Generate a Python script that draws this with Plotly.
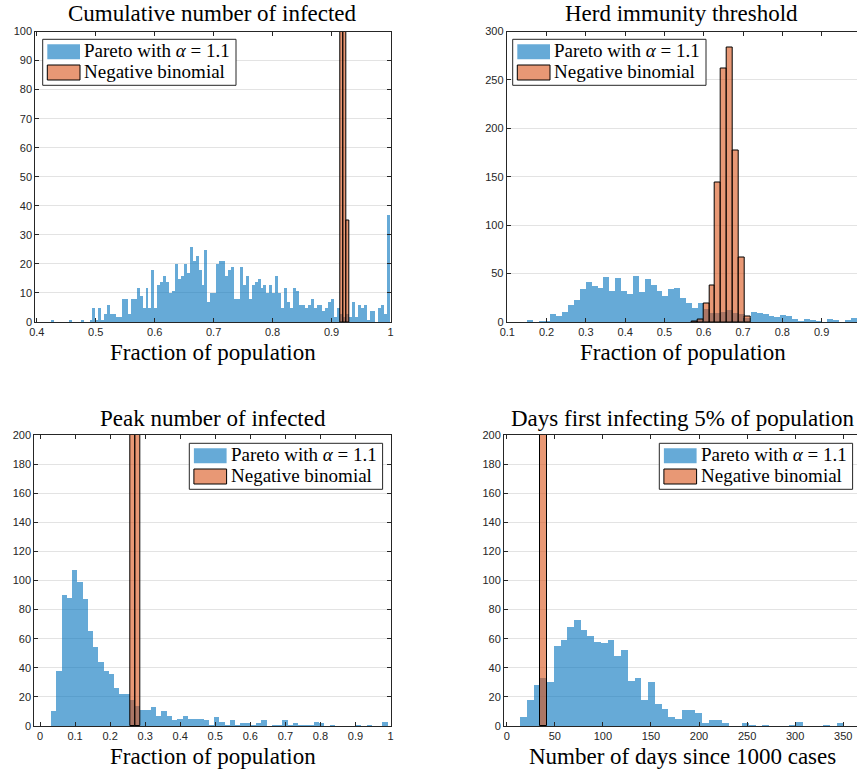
import plotly.graph_objects as go

W, H = 857, 772

# ---------------- DATA ----------------
# Panel 1: Cumulative number of infected (bin width 0.005 starting at 0.40)
cum_start = 0.40
cum_width = 0.005
cum_pareto = [0, 0, 0, 0, 0, 1, 0, 0, 0, 0,
              0, 1, 0, 0, 0, 1, 0, 0, 1, 5,
              1, 5, 1, 3, 6, 3, 3, 2, 2, 8,
              8, 3, 8, 8, 12, 9, 5, 12, 5, 18,
              5, 13, 14, 16, 14, 10, 11, 20, 15, 16,
              20, 17, 26, 21, 23, 18, 13, 25, 7, 10,
              10, 20, 21, 21, 16, 18, 19, 8, 8, 19,
              13, 16, 8, 13, 14, 15, 12, 13, 10, 13,
              10, 16, 10, 5, 12, 7, 5, 12, 11, 6,
              6, 5, 6, 8, 5, 6, 6, 4, 5, 7,
              8, 2, 5, 3, 2, 3, 2, 7, 2, 6,
              5, 6, 1, 4, 4, 0, 5, 6, 3, 37]
cum_nb_start = 0.915
cum_nb = [520, 445, 35]

# Panel 2: Herd immunity threshold (bin width 0.015)
herd_start = 0.104
herd_width = 0.015
herd_pareto = [0, 0, 1, 3, 1, 2, 2, 9, 7, 11,
               18, 23, 35, 42, 38, 36, 47, 33, 46, 33,
               29, 48, 31, 45, 39, 33, 27, 35, 36, 25,
               20, 15, 20, 14, 10, 10, 11, 13, 10, 9,
               5, 11, 10, 9, 7, 6, 8, 7, 4, 2,
               4, 3, 2, 1, 4, 3, 1, 3, 5, 5]
herd_nb_start = 0.569
herd_nb = [1, 3, 19, 38, 144, 262, 283, 177, 67, 6]

# Panel 3: Peak number of infected (bin width 0.015)
peak_start = 0.0324
peak_width = 0.015
peak_pareto = [10, 38, 90, 88, 107, 99, 87, 65, 54, 44,
               38, 36, 26, 22, 22, 18, 14, 11, 11, 13,
               7, 10, 7, 4, 5, 7, 5, 5, 5, 4,
               1, 6, 3, 1, 4, 1, 2, 2, 1, 2,
               4, 0, 1, 1, 4, 1, 2, 1, 1, 1,
               3, 2, 0, 1, 0, 0, 0, 0, 1, 0,
               1, 0, 0, 3]
peak_nb_start = 0.2574
peak_nb = [540, 460]

# Panel 4: Days first infecting 5% of population (bin width 7 days)
days_start = 14
days_width = 7
days_pareto = [6, 18, 28, 33, 30, 55, 59, 68, 73, 66,
               62, 58, 57, 59, 48, 52, 31, 33, 18, 30,
               15, 12, 6, 5, 11, 11, 9, 2, 4, 4,
               2, 0, 0, 2, 1, 0, 1, 0, 0, 0,
               1, 3, 0, 0, 0, 1, 0, 2]
days_nb_start = 35
days_nb = [1000]

titles = ["Cumulative number of infected", "Herd immunity threshold",
          "Peak number of infected", "Days first infecting 5% of population"]
xlabels = ["Fraction of population", "Fraction of population",
           "Fraction of population", "Number of days since 1000 cases"]
legend_names = ["Pareto with <i>α</i> = 1.1", "Negative binomial"]

x1_ticks = [0.4, 0.5, 0.6, 0.7, 0.8, 0.9, 1.0]
x1_text = ["0.4", "0.5", "0.6", "0.7", "0.8", "0.9", "1"]
x2_ticks = [0.1, 0.2, 0.3, 0.4, 0.5, 0.6, 0.7, 0.8, 0.9]
x2_text = ["0.1", "0.2", "0.3", "0.4", "0.5", "0.6", "0.7", "0.8", "0.9"]
x3_ticks = [0, 0.1, 0.2, 0.3, 0.4, 0.5, 0.6, 0.7, 0.8, 0.9, 1.0]
x3_text = ["0", "0.1", "0.2", "0.3", "0.4", "0.5", "0.6", "0.7", "0.8", "0.9", "1"]
x4_ticks = [0, 50, 100, 150, 200, 250, 300, 350]
y1_ticks = list(range(0, 101, 10))
y2_ticks = list(range(0, 301, 50))
y34_ticks = list(range(0, 201, 20))

# ---------------- STYLE ----------------
BLUE = "rgba(0,114,189,0.6)"
ORANGE = "rgba(217,83,25,0.6)"
AXC = "#262626"
GRID = "#e3e3e3"
SERIF = "Liberation Serif, Times New Roman, serif"
SANS = "Liberation Sans, Arial, sans-serif"


def px(x):
    return x / W


def py(y):
    return 1 - y / H


fig = go.Figure()


def add_hist(start, width, counts, color, line, xa, ya):
    xs = [start + i * width for i in range(len(counts))]
    fig.add_trace(go.Bar(
        x=xs, y=counts, width=width, offset=0,
        marker=dict(color=color, line=line),
        xaxis=xa, yaxis=ya, showlegend=False, hoverinfo="skip"))


no_line = dict(width=0)
blk_line = dict(color="black", width=1)

add_hist(cum_start, cum_width, cum_pareto, BLUE, no_line, "x", "y")
add_hist(cum_nb_start, cum_width, cum_nb, ORANGE, blk_line, "x", "y")
add_hist(herd_start, herd_width, herd_pareto, BLUE, no_line, "x2", "y2")
add_hist(herd_nb_start, herd_width, herd_nb, ORANGE, blk_line, "x2", "y2")
add_hist(peak_start, peak_width, peak_pareto, BLUE, no_line, "x3", "y3")
add_hist(peak_nb_start, peak_width, peak_nb, ORANGE, blk_line, "x3", "y3")
add_hist(days_start, days_width, days_pareto, BLUE, no_line, "x4", "y4")
add_hist(days_nb_start, days_width, days_nb, ORANGE, blk_line, "x4", "y4")

# axes geometry in pixels: (left, right, top, bottom)
geo = {
    1: (35.3, 390.5, 31.5, 322),
    2: (506.7, 857, 31.5, 322),
    3: (34.3, 390.5, 435, 726),
    4: (504, 857, 435, 726),
}
xranges = {1: [0.3975, 1.0], 2: [0.0985, 0.99], 3: [-0.0163, 1.0], 4: [-2.8, 364.3]}
yranges = {1: [0, 100], 2: [0, 300], 3: [0, 200], 4: [0, 200]}
xt = {1: (x1_ticks, x1_text), 2: (x2_ticks, x2_text), 3: (x3_ticks, x3_text),
      4: (x4_ticks, [str(v) for v in x4_ticks])}
yt = {1: y1_ticks, 2: y2_ticks, 3: y34_ticks, 4: y34_ticks}

layout = dict(width=W, height=H, margin=dict(l=0, r=0, t=0, b=0, pad=0),
              autosize=False, barmode="overlay", bargap=0,
              plot_bgcolor="white", paper_bgcolor="white")

tickfont = dict(family=SANS, size=11, color=AXC)
for i in range(1, 5):
    l, r, t, b = geo[i]
    sfx = "" if i == 1 else str(i)
    full_box = i in (1, 3)
    layout["xaxis" + sfx] = dict(
        domain=[px(l), px(r)], range=xranges[i], anchor="y" + sfx,
        tickmode="array", tickvals=xt[i][0], ticktext=xt[i][1],
        ticks="inside", ticklen=4, tickcolor=AXC, showline=True,
        linecolor=AXC, linewidth=1, mirror="ticks", showgrid=False,
        zeroline=False, tickfont=tickfont, fixedrange=True,
        automargin=False)
    layout["yaxis" + sfx] = dict(
        domain=[py(b), py(t)], range=yranges[i], anchor="x" + sfx,
        tickmode="array", tickvals=yt[i],
        ticks="inside", ticklen=4, tickcolor=AXC, showline=True,
        linecolor=AXC, linewidth=1, mirror="ticks" if full_box else False,
        showgrid=True, gridcolor=GRID, gridwidth=1,
        zeroline=False, tickfont=tickfont, fixedrange=True,
        automargin=False)

fig.update_layout(**layout)

annotations = []
shapes = []

title_pos = [(212.8, 14), (681.5, 14), (212.8, 418), (682.5, 418)]
xlabel_pos = [(212.8, 352), (682.5, 352), (212.8, 756), (682.5, 756)]
for (tx, ty), txt in zip(title_pos, titles):
    annotations.append(dict(x=px(tx), y=py(ty), xref="paper", yref="paper",
                            text=txt, showarrow=False, xanchor="center",
                            yanchor="middle",
                            font=dict(family=SERIF, size=23, color="black")))
for (tx, ty), txt in zip(xlabel_pos, xlabels):
    annotations.append(dict(x=px(tx), y=py(ty), xref="paper", yref="paper",
                            text=txt, showarrow=False, xanchor="center",
                            yanchor="middle",
                            font=dict(family=SERIF, size=23, color="black")))

# legends (box top-left corners, pixels)
legend_pos = [(42.7, 39.3), (512.7, 39.3), (189.3, 443.3), (659.3, 443.3)]
LW, LH = 193.3, 46
for (lx, ly) in legend_pos:
    shapes.append(dict(type="rect", xref="paper", yref="paper",
                       x0=px(lx), x1=px(lx + LW), y0=py(ly + LH), y1=py(ly),
                       line=dict(color=AXC, width=1), fillcolor="white",
                       layer="above"))
    shapes.append(dict(type="rect", xref="paper", yref="paper",
                       x0=px(lx + 4.6), x1=px(lx + 37.3),
                       y0=py(ly + 20), y1=py(ly + 5),
                       line=dict(width=0), fillcolor=BLUE, layer="above"))
    shapes.append(dict(type="rect", xref="paper", yref="paper",
                       x0=px(lx + 4.6), x1=px(lx + 37.3),
                       y0=py(ly + 40.7), y1=py(ly + 25.7),
                       line=dict(color="black", width=1), fillcolor=ORANGE,
                       layer="above"))
    for name, dy in zip(legend_names, (11.6, 32.2)):
        annotations.append(dict(x=px(lx + 39.5), y=py(ly + dy), xref="paper",
                                yref="paper", text=name, showarrow=False,
                                xanchor="left", yanchor="middle",
                                font=dict(family=SERIF, size=19, color="black")))

fig.update_layout(annotations=annotations, shapes=shapes)
fig.write_html("out.html")
